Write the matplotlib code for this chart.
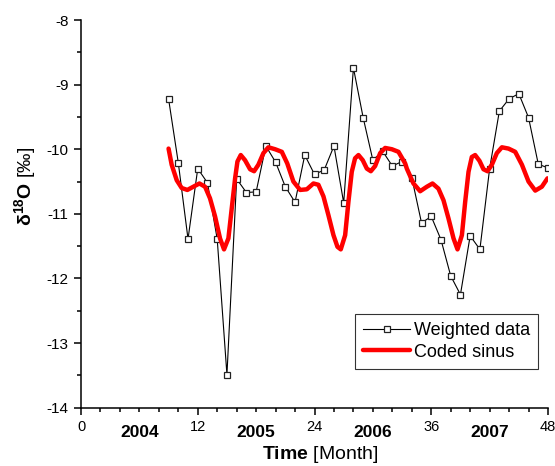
import matplotlib
matplotlib.use('Agg')
import matplotlib.pyplot as plt
from matplotlib.ticker import MultipleLocator
import matplotlib.transforms as mtransforms

plt.rcParams['font.family'] = ['Liberation Sans', 'DejaVu Sans']
plt.rcParams['mathtext.fontset'] = 'custom'
plt.rcParams['mathtext.rm'] = 'Liberation Sans'
plt.rcParams['mathtext.bf'] = 'Liberation Sans:bold'
plt.rcParams['axes.unicode_minus'] = False

# weighted monthly data (month, d18O)
month = list(range(9, 49))
weighted = [-9.22, -10.21, -11.39, -10.30, -10.52, -11.39, -13.49, -10.46,
            -10.67, -10.66, -9.95, -10.20, -10.58, -10.82, -10.09, -10.39,
            -10.32, -9.95, -10.83, -8.74, -9.51, -10.17, -10.03, -10.26,
            -10.19, -10.44, -11.14, -11.04, -11.40, -11.96, -12.25, -11.34,
            -11.55, -10.30, -9.41, -9.22, -9.14, -9.51, -10.23, -10.29]

# coded sinus curve
sinus_x = [9.0, 9.32, 9.84, 10.35, 10.93, 11.55, 12.17, 12.75, 13.26, 13.78,
           14.29, 14.70, 15.15, 15.49, 15.84, 16.08, 16.42, 16.86, 17.38, 17.79,
           18.23, 18.75, 19.26, 19.95, 20.64, 21.2, 21.83, 22.52, 23.21, 23.89,
           24.40, 24.92, 25.43, 25.95, 26.36, 26.70, 27.15, 27.49, 27.83, 28.17,
           28.52, 28.96, 29.38, 29.79, 30.23, 30.75, 31.26, 31.95, 32.63, 33.32,
           33.49, 34.17, 34.86, 35.55, 36.13, 36.74, 37.26, 37.77, 38.29, 38.70,
           39.15, 39.49, 39.83, 40.17, 40.51, 40.96, 41.37, 41.78, 42.23, 42.74,
           43.26, 43.94, 44.63, 45.32, 46.00, 46.69, 47.37, 47.95]
sinus_y = [-9.99, -10.24, -10.48, -10.60, -10.63, -10.58, -10.53, -10.58, -10.76, -11.04,
           -11.38, -11.55, -11.38, -10.92, -10.45, -10.19, -10.09, -10.17, -10.31, -10.34,
           -10.24, -10.06, -9.97, -10.00, -10.04, -10.22, -10.50, -10.63, -10.62, -10.53,
           -10.55, -10.73, -11.02, -11.33, -11.51, -11.55, -11.33, -10.81, -10.35, -10.14,
           -10.09, -10.17, -10.30, -10.34, -10.26, -10.06, -9.98, -10.00, -10.04, -10.22,
           -10.30, -10.53, -10.65, -10.58, -10.53, -10.61, -10.79, -11.07, -11.38, -11.55,
           -11.33, -10.81, -10.35, -10.12, -10.09, -10.18, -10.31, -10.34, -10.24, -10.06,
           -9.97, -9.99, -10.04, -10.24, -10.50, -10.64, -10.58, -10.45]

year_pos = [6, 18, 30, 42]
year_labels = ['2004', '2005', '2006', '2007']

fig = plt.figure(figsize=(5.55, 4.66), dpi=100)
ax = fig.add_axes([81/555, 1 - 407.7/466, 467/555, 387.7/466])

ax.plot(month, weighted, color='black', lw=0.8, marker='s', ms=5,
        mfc='white', mec='#222222', mew=0.9, label='Weighted data', zorder=2)
ax.plot(sinus_x, sinus_y, color='#ff0000', lw=3.2, label='Coded sinus',
        zorder=3, solid_capstyle='round')

ax.set_xlim(0, 48)
ax.set_ylim(-14, -8)
ax.spines['top'].set_visible(False)
ax.spines['right'].set_visible(False)
for s in ['left', 'bottom']:
    ax.spines[s].set_linewidth(1.1)

ax.xaxis.set_major_locator(MultipleLocator(12))
ax.xaxis.set_minor_locator(MultipleLocator(2))
ax.yaxis.set_major_locator(MultipleLocator(1))
ax.yaxis.set_minor_locator(MultipleLocator(0.5))
ax.tick_params(which='major', direction='out', length=5, width=1.1)
ax.tick_params(which='minor', direction='out', length=3, width=1.1)
ax.tick_params(axis='y', labelsize=11, pad=4)
ax.tick_params(axis='x', labelsize=10.5, pad=4)

trans = mtransforms.blended_transform_factory(ax.transData, ax.transAxes)
for xp, yl in zip(year_pos, year_labels):
    ax.text(xp, -0.063, yl, transform=trans, ha='center', va='center',
            fontsize=12.5, fontweight='bold')

ax.text(0.512, -0.122, r'$\mathbf{Time}$ [Month]', transform=ax.transAxes,
        ha='center', va='center', fontsize=14)
fig.text(25/555, 1 - 186/466, r'$\mathbf{\delta^{18}O}$ [‰]', rotation=90,
         ha='center', va='center', fontsize=14)

leg = ax.legend(loc='lower right', bbox_to_anchor=(0.979, 0.1), borderaxespad=0,
                fontsize=13, fancybox=False, frameon=True, edgecolor='black',
                borderpad=0.45, labelspacing=0.25, handlelength=2.6,
                handletextpad=0.2)
leg.get_frame().set_linewidth(0.8)

fig.savefig('out.png', dpi=100)
